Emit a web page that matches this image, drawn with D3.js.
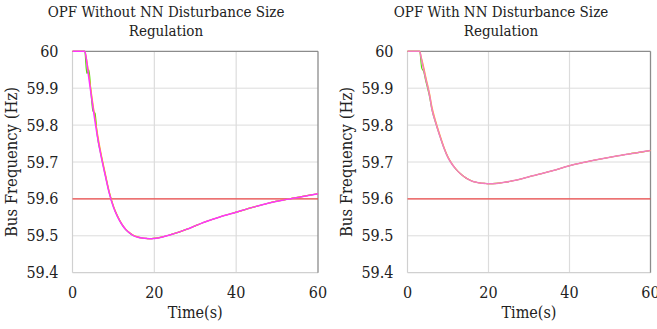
<!DOCTYPE html>
<html>
<head>
<meta charset="utf-8">
<script src="https://cdn.jsdelivr.net/npm/d3@7"></script>
<style>
  body { margin: 0; background: #fff; }
  svg text { font-family: "DejaVu Serif Condensed", "DejaVu Serif", serif; }
</style>
</head>
<body>
<div id="chart"></div>
<script>
// time samples (s)
var times = [0, 3, 3.5, 4, 4.5, 5, 5.5, 6, 7, 8, 9, 10, 11, 12, 13, 14, 15, 16, 17, 18, 19, 20,
             22, 24, 26, 28, 30, 33, 36, 40, 44, 48, 52, 56, 60];

// left panel: OPF without NN
var leftMain   = [60, 60, 59.97, 59.927, 59.887, 59.848, 59.81, 59.775, 59.715, 59.664, 59.615, 59.578, 59.552, 59.532, 59.517, 59.507, 59.5, 59.496, 59.494, 59.493, 59.492, 59.493,
                  59.497, 59.503, 59.51, 59.518, 59.527, 59.54, 59.551, 59.564, 59.577, 59.589, 59.598, 59.606, 59.614];
var leftGreen  = [60, 60, 59.94, 59.95, 59.89, 59.838, 59.832, 59.777, 59.717, 59.665, 59.616, 59.579, 59.552, 59.532, 59.517, 59.507, 59.5, 59.496, 59.494, 59.493, 59.492, 59.493,
                  59.497, 59.503, 59.51, 59.518, 59.527, 59.54, 59.551, 59.564, 59.577, 59.589, 59.598, 59.606, 59.614];
var leftYellow = [60, 60, 59.975, 59.936, 59.896, 59.857, 59.819, 59.784, 59.722, 59.67, 59.619, 59.581, 59.554, 59.533, 59.518, 59.508, 59.501, 59.497, 59.494, 59.493, 59.492, 59.493,
                  59.497, 59.503, 59.51, 59.518, 59.527, 59.54, 59.551, 59.564, 59.577, 59.589, 59.598, 59.606, 59.614];

// right panel: OPF with NN
var rightMain   = [60, 60, 59.975, 59.95, 59.925, 59.903, 59.877, 59.845, 59.805, 59.77, 59.738, 59.712, 59.694, 59.68, 59.669, 59.66, 59.653, 59.648, 59.645, 59.643, 59.642, 59.641,
                   59.642, 59.645, 59.649, 59.654, 59.66, 59.668, 59.677, 59.69, 59.7, 59.709, 59.717, 59.724, 59.731];
var rightGreen  = [60, 60, 59.955, 59.945, 59.92, 59.898, 59.874, 59.843, 59.804, 59.77, 59.738, 59.712, 59.694, 59.68, 59.669, 59.66, 59.653, 59.648, 59.645, 59.643, 59.642, 59.641,
                   59.642, 59.645, 59.649, 59.654, 59.66, 59.668, 59.677, 59.69, 59.7, 59.709, 59.717, 59.724, 59.731];
var rightYellow = [60, 60, 59.98, 59.958, 59.932, 59.908, 59.883, 59.852, 59.81, 59.774, 59.741, 59.714, 59.695, 59.681, 59.669, 59.66, 59.653, 59.648, 59.645, 59.643, 59.642, 59.641,
                   59.642, 59.645, 59.649, 59.654, 59.66, 59.668, 59.677, 59.69, 59.7, 59.709, 59.717, 59.724, 59.731];

var limitValue = 59.6;
var xTicks = [0, 20, 40, 60];
var yTicks = [59.4, 59.5, 59.6, 59.7, 59.8, 59.9, 60];
var titles = [["OPF Without NN Disturbance Size", "Regulation"], ["OPF With NN Disturbance Size", "Regulation"]];

var panels = [
  { left: 72.5, right: 318, titleX: 166, labelX: 17,
    series: [{v: leftGreen, c: "#55dd00", w: 1.2}, {v: leftYellow, c: "#ffc000", w: 1.2}, {v: leftMain, c: "#ff33ff", w: 1.5}] },
  { left: 407.5, right: 650.5, titleX: 501, labelX: 352,
    series: [{v: rightGreen, c: "#55dd00", w: 1.1}, {v: rightYellow, c: "#ffb030", w: 1.1}, {v: rightMain, c: "#f47cc2", w: 1.5}] }
];

var svg = d3.select("#chart").append("svg")
  .attr("width", 657).attr("height", 329);

var plotTop = 51.3, plotBottom = 272.7;

panels.forEach(function(p, pi) {
  var x = d3.scaleLinear().domain([0, 60]).range([p.left, p.right]);
  var y = d3.scaleLinear().domain([59.4, 60]).range([plotBottom, plotTop]);
  var g = svg.append("g");

  // gridlines
  g.selectAll(".hg").data(yTicks.slice(1, -1)).enter().append("line")
    .attr("x1", x(0)).attr("x2", x(60))
    .attr("y1", function(d) { return y(d); }).attr("y2", function(d) { return y(d); })
    .attr("stroke", "#dcdcdc").attr("stroke-width", 1);
  g.selectAll(".vg").data(xTicks.slice(1, -1)).enter().append("line")
    .attr("y1", y(59.4)).attr("y2", y(60))
    .attr("x1", function(d) { return x(d); }).attr("x2", function(d) { return x(d); })
    .attr("stroke", "#dcdcdc").attr("stroke-width", 1.2);

  // frame: left/bottom light, top/right darker
  g.append("line").attr("x1", x(0)).attr("x2", x(0)).attr("y1", y(59.4)).attr("y2", y(60))
    .attr("stroke", "#d0d0d0").attr("stroke-width", 1.2);
  g.append("line").attr("x1", x(0)).attr("x2", x(60)).attr("y1", y(59.4)).attr("y2", y(59.4))
    .attr("stroke", "#d0d0d0").attr("stroke-width", 1.2);
  g.append("line").attr("x1", x(0)).attr("x2", x(60)).attr("y1", y(60)).attr("y2", y(60))
    .attr("stroke", "#8c8c8c").attr("stroke-width", 1.3);
  g.append("line").attr("x1", x(60)).attr("x2", x(60)).attr("y1", y(59.4)).attr("y2", y(60))
    .attr("stroke", "#8c8c8c").attr("stroke-width", 1.3);

  // limit line
  g.append("line").attr("x1", x(0)).attr("x2", x(60))
    .attr("y1", y(limitValue)).attr("y2", y(limitValue))
    .attr("stroke", "#ee4a4a").attr("stroke-width", 1.2);

  // curves
  var line = d3.line()
    .x(function(d, i) { return x(times[i]); })
    .y(function(d) { return y(d); })
    .curve(d3.curveMonotoneX);
  p.series.forEach(function(s) {
    g.append("path").datum(s.v)
      .attr("d", line)
      .attr("fill", "none")
      .attr("stroke", s.c)
      .attr("stroke-width", s.w);
  });

  // y tick labels
  g.selectAll(".yt").data(yTicks).enter().append("text")
    .attr("x", x(0) - 14).attr("y", function(d) { return y(d) + 5.5; })
    .attr("text-anchor", "end").attr("fill", "#222").style("font-size", "16px")
    .text(function(d) { return d === 60 ? "60" : d3.format(".1f")(d); });

  // x tick labels
  g.selectAll(".xt").data(xTicks).enter().append("text")
    .attr("x", function(d) { return x(d); }).attr("y", 298)
    .attr("text-anchor", "middle").attr("fill", "#222").style("font-size", "16px")
    .text(function(d) { return d; });

  // axis titles
  g.append("text").attr("x", (p.left + p.right) / 2).attr("y", 318)
    .attr("text-anchor", "middle").attr("fill", "#222").style("font-size", "16px").text("Time(s)");
  g.append("text")
    .attr("transform", "translate(" + p.labelX + "," + ((plotTop + plotBottom) / 2) + ") rotate(-90)")
    .attr("text-anchor", "middle").attr("fill", "#222").style("font-size", "16.5px").text("Bus Frequency (Hz)");

  // chart title
  g.selectAll(".tt").data(titles[pi]).enter().append("text")
    .attr("x", p.titleX).attr("y", function(d, i) { return 17 + i * 18.5; })
    .attr("text-anchor", "middle").attr("fill", "#222").style("font-size", "15px")
    .text(function(d) { return d; });
});
</script>
</body>
</html>
